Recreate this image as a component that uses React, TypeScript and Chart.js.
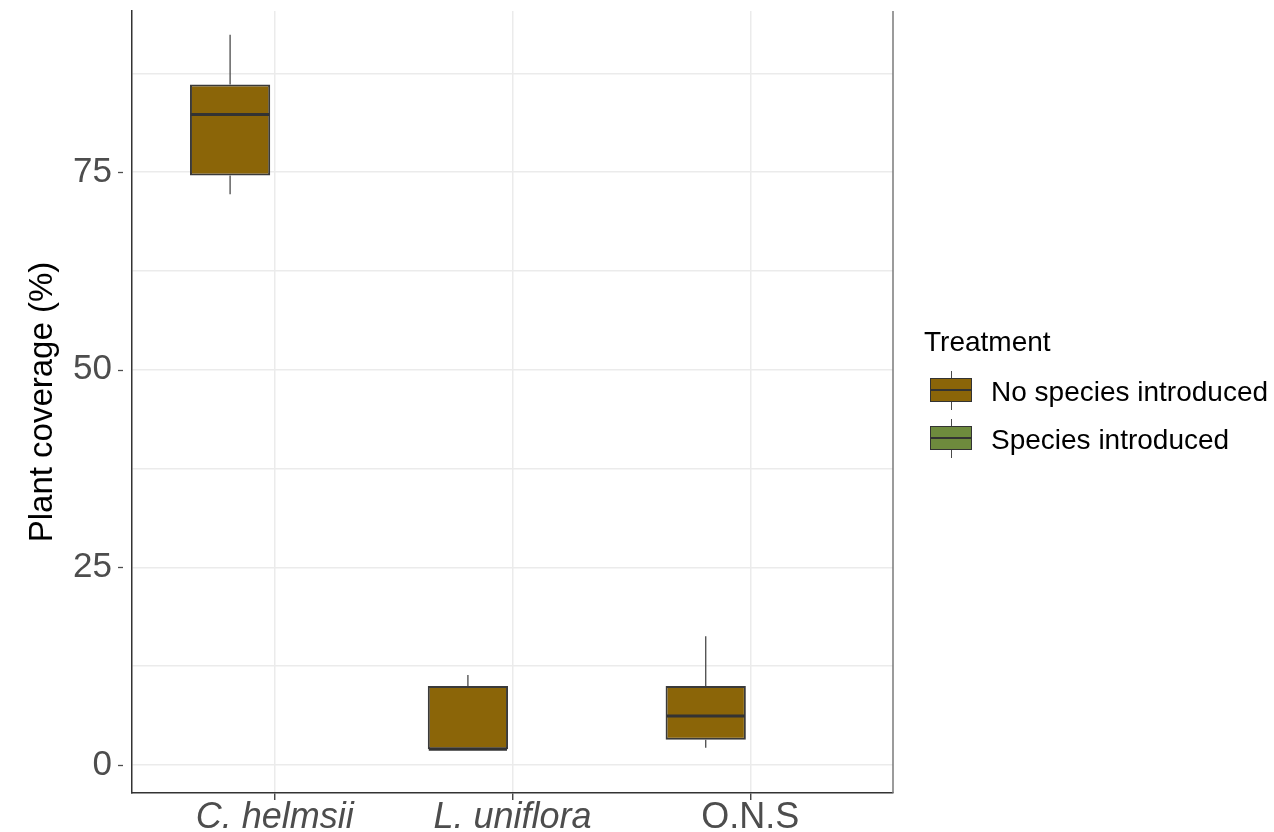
import React, { useEffect, useRef } from 'react';
import { Chart, registerables } from 'chart.js';

Chart.register(...registerables);

// ---- data ----
const categories = ['C. helmsii', 'L. uniflora', 'O.N.S'];
const categoryItalic = [true, true, false];
const treatments = ['No species introduced', 'Species introduced'];
const treatmentColors = ['#8B6508', '#6E8B3D'];

// "No species introduced" box statistics (per category)
const noSpeciesMin = [72.2, 2.0, 2.2];
const noSpeciesQ1 = [74.6, 2.0, 3.2];
const noSpeciesMedian = [82.3, 2.0, 6.2];
const noSpeciesQ3 = [86.1, 10.0, 10.0];
const noSpeciesMax = [92.4, 11.4, 16.3];

// "Species introduced": no boxes shown in the figure
const introducedQ1: number[] = [];
const introducedQ3: number[] = [];

const yMajorTicks = [0, 25, 50, 75];
const yMinorTicks = [12.5, 37.5, 62.5, 87.5];

const FONT = "'Liberation Sans', Arial, Helvetica, sans-serif";
const DODGE = 0.1875;
const GRID = '#ebebeb';
const DARK = '#333333';

const boxPlugin = {
  id: 'boxWhiskers',
  afterDatasetsDraw(chart: any) {
    const ctx = chart.ctx;
    const meta = chart.getDatasetMeta(0);
    const xs = chart.scales.x;
    const ys = chart.scales.y;
    ctx.save();
    const line = (x1: number, y1: number, x2: number, y2: number) => {
      ctx.beginPath();
      ctx.moveTo(x1, y1);
      ctx.lineTo(x2, y2);
      ctx.stroke();
    };
    meta.data.forEach((bar: any, i: number) => {
      const cx = xs.getPixelForValue(i + 1 - DODGE);
      const half = bar.width / 2;
      ctx.strokeStyle = '#4a4a4a';
      ctx.lineWidth = 1.3;
      if (noSpeciesMax[i] > noSpeciesQ3[i])
        line(cx, ys.getPixelForValue(noSpeciesQ3[i]), cx, ys.getPixelForValue(noSpeciesMax[i]));
      if (noSpeciesMin[i] < noSpeciesQ1[i])
        line(cx, ys.getPixelForValue(noSpeciesQ1[i]), cx, ys.getPixelForValue(noSpeciesMin[i]));
      ctx.strokeStyle = DARK;
      ctx.lineWidth = 3;
      const ym = ys.getPixelForValue(noSpeciesMedian[i]);
      line(cx - half + 1, ym, cx + half - 1, ym);
    });
    ctx.restore();
  },
  afterDraw(chart: any) {
    const { ctx, chartArea } = chart;
    const ys = chart.scales.y;
    ctx.save();
    // right panel border
    ctx.strokeStyle = '#7a7a7a';
    ctx.lineWidth = 1.5;
    ctx.beginPath();
    ctx.moveTo(chartArea.right, chartArea.top);
    ctx.lineTo(chartArea.right, chartArea.bottom);
    ctx.stroke();
    // short y tick marks, detached from the axis line
    ctx.strokeStyle = '#4d4d4d';
    ctx.lineWidth = 1.3;
    yMajorTicks.forEach((v) => {
      const py = Math.round(ys.getPixelForValue(v)) + 0.5;
      ctx.beginPath();
      ctx.moveTo(chartArea.left - 14, py);
      ctx.lineTo(chartArea.left - 9, py);
      ctx.stroke();
    });
    ctx.restore();
  },
};

function LegendGlyph({ color, top }: { color: string; top: number }) {
  return (
    <div style={{ position: 'absolute', left: 930, top, width: 43, height: 40 }}>
      <div style={{ position: 'absolute', left: 20.5, top: 0, width: 1.3, height: 39, background: '#4a4a4a' }} />
      <div
        style={{
          position: 'absolute',
          left: 0,
          top: 7,
          width: 42,
          height: 24,
          boxSizing: 'border-box',
          border: `1.5px solid ${DARK}`,
          background: color,
        }}
      />
      <div style={{ position: 'absolute', left: 1, top: 18, width: 40, height: 2, background: DARK }} />
    </div>
  );
}

export default function App() {
  const canvasRef = useRef<HTMLCanvasElement | null>(null);

  useEffect(() => {
    if (!canvasRef.current) return;
    const chart = new Chart(canvasRef.current, {
      type: 'bar',
      data: {
        datasets: [
          {
            type: 'bar',
            label: treatments[0],
            data: categories.map((_, i) => ({ x: i + 1 - DODGE, y: [noSpeciesQ1[i], noSpeciesQ3[i]] })) as any,
            backgroundColor: treatmentColors[0],
            borderColor: '#3a3a3a',
            borderWidth: 2,
            borderSkipped: false,
            grouped: false,
            categoryPercentage: 1,
            barPercentage: 0.3375,
          },
          {
            type: 'bar',
            label: treatments[1],
            data: introducedQ1.map((q, i) => ({ x: i + 1 + DODGE, y: [q, introducedQ3[i]] })) as any,
            backgroundColor: treatmentColors[1],
            borderColor: '#3a3a3a',
            borderWidth: 2,
            borderSkipped: false,
            grouped: false,
            categoryPercentage: 1,
            barPercentage: 0.3375,
          },
        ],
      },
      options: {
        responsive: false,
        animation: false,
        devicePixelRatio: 1,
        events: [],
        layout: { padding: { left: 0, top: 11, right: 381, bottom: 0 } },
        plugins: {
          legend: { display: false },
          tooltip: { enabled: false },
        },
        scales: {
          x: {
            type: 'linear',
            min: 0.4,
            max: 3.6,
            offset: false,
            afterBuildTicks: (s: any) => {
              s.ticks = categories.map((_, i) => ({ value: i + 1 }));
            },
            afterFit: (s: any) => {
              s.height = 39;
              s.paddingLeft = 0;
              s.paddingRight = 0;
            },
            ticks: {
              autoSkip: false,
              maxRotation: 0,
              minRotation: 0,
              padding: 0,
              color: '#4d4d4d',
              callback: (v: any) => categories[Math.round(Number(v)) - 1],
              font: (ctx: any) => ({
                family: FONT,
                size: 36,
                lineHeight: 1,
                style: categoryItalic[ctx.index] ? 'italic' : 'normal',
              }),
            },
            grid: {
              offset: false,
              color: GRID,
              lineWidth: 1.5,
              tickColor: DARK,
              tickLength: 7,
              tickWidth: 1.3,
            },
            border: { display: true, color: DARK, width: 1.5 },
          },
          y: {
            type: 'linear',
            min: -3.54,
            max: 95.4,
            afterBuildTicks: (s: any) => {
              s.ticks = [...yMajorTicks, ...yMinorTicks].sort((a, b) => a - b).map((v) => ({ value: v }));
            },
            afterFit: (s: any) => {
              s.width = 132;
              s.paddingTop = 0;
              s.paddingBottom = 0;
            },
            ticks: {
              color: '#4d4d4d',
              padding: 6,
              font: { family: FONT, size: 35 },
              callback: (v: any) => (yMajorTicks.includes(Number(v)) ? String(v) : ''),
            },
            grid: {
              color: GRID,
              lineWidth: 1.5,
              tickLength: 14,
              tickColor: 'rgba(0,0,0,0)',
            },
            border: { display: true, color: DARK, width: 1.5 },
            title: {
              display: true,
              text: 'Plant coverage (%)',
              color: '#000000',
              font: { family: FONT, size: 33 },
              padding: { top: 23, bottom: 0 },
            },
          },
        },
      },
      plugins: [boxPlugin],
    });
    return () => chart.destroy();
  }, []);

  const textStyle: React.CSSProperties = {
    position: 'absolute',
    fontFamily: FONT,
    fontSize: 28,
    lineHeight: 1,
    color: '#000',
    whiteSpace: 'nowrap',
  };

  return (
    <div style={{ position: 'fixed', left: 0, top: 0, width: 1274, height: 832, background: '#fff' }}>
      <canvas ref={canvasRef} width={1274} height={832} style={{ position: 'absolute', left: 0, top: 0 }} />
      <div style={{ ...textStyle, left: 924, top: 328 }}>Treatment</div>
      <LegendGlyph color={treatmentColors[0]} top={371} />
      <LegendGlyph color={treatmentColors[1]} top={419} />
      <div style={{ ...textStyle, left: 991, top: 378 }}>{treatments[0]}</div>
      <div style={{ ...textStyle, left: 991, top: 426 }}>{treatments[1]}</div>
    </div>
  );
}
